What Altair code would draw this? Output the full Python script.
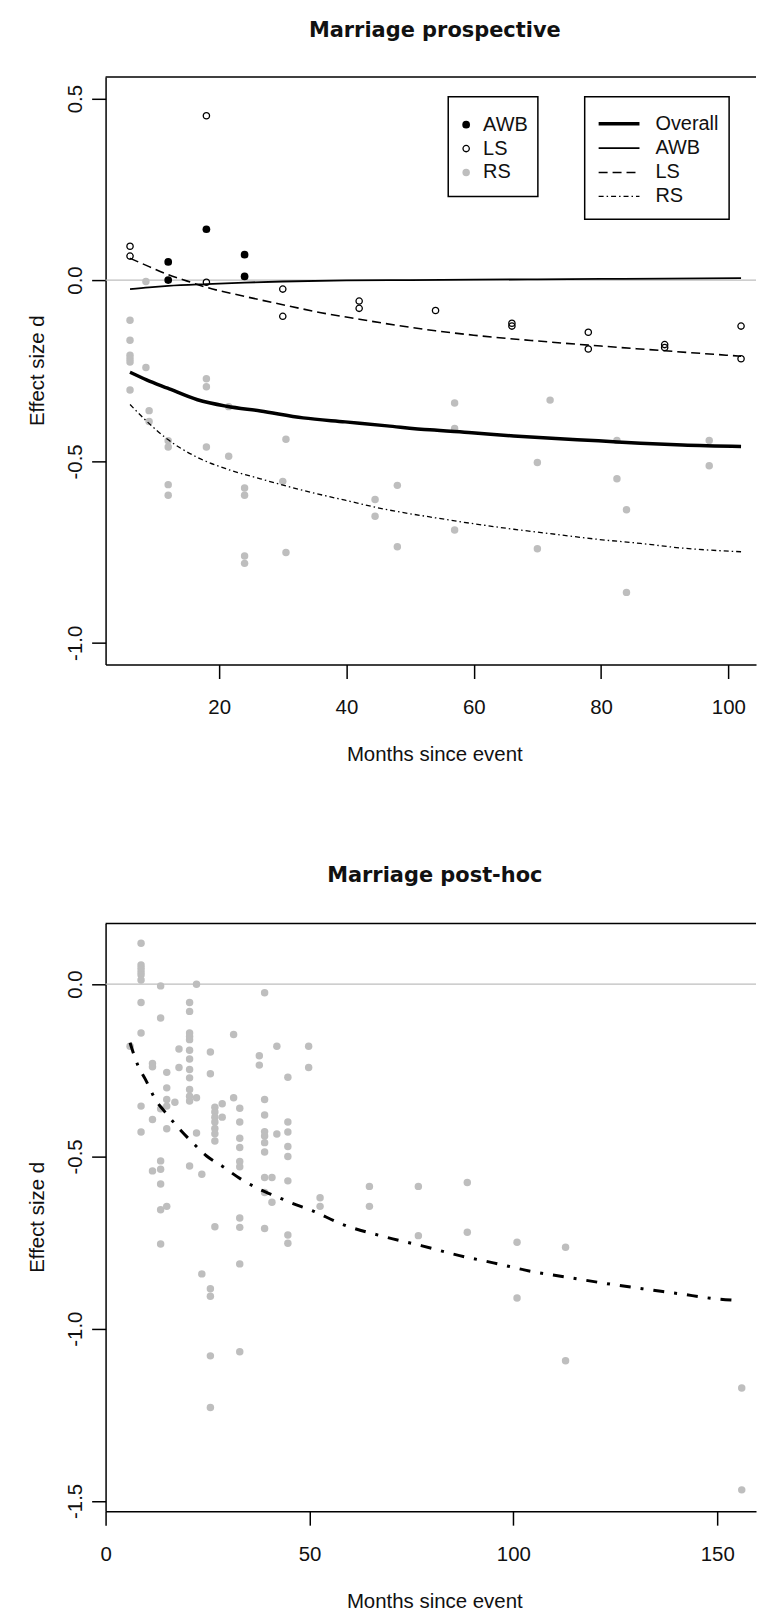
import altair as alt
import pandas as pd

W, H = 653, 590

# ---------------- top panel: Marriage prospective ----------------
top_awb_month = [12, 12, 18, 24, 24]
top_awb_d = [0.05, 0.0, 0.14, 0.07, 0.01]

top_ls_month = [6, 6, 18, 18, 30, 30, 42, 42, 54, 66, 66, 78, 78, 90, 90, 102, 102]
top_ls_d = [0.093, 0.066, 0.453, -0.006, -0.025, -0.10, -0.058, -0.078, -0.084,
            -0.119, -0.127, -0.144, -0.19, -0.178, -0.186, -0.127, -0.217]

top_rs_month = [6, 6, 6, 6, 6, 6, 8.5, 8.5, 9, 9,
                12, 12, 12, 12, 18, 18, 18, 21.5, 21.5,
                24, 24, 24, 24, 30.5, 30, 30.5, 44.5, 44.5, 48, 48,
                57, 57, 57, 70, 70, 72, 82.5, 82.5, 84, 84, 97, 97]
top_rs_d = [-0.111, -0.166, -0.207, -0.217, -0.226, -0.303, -0.004, -0.241, -0.36, -0.39,
            -0.443, -0.46, -0.564, -0.593, -0.272, -0.294, -0.46, -0.349, -0.486,
            -0.573, -0.593, -0.761, -0.781, -0.439, -0.555, -0.751, -0.605, -0.651, -0.566, -0.735,
            -0.339, -0.409, -0.689, -0.503, -0.741, -0.331, -0.442, -0.548, -0.633, -0.861, -0.442, -0.512]

top_overall_month = [6, 8.6, 11.9, 16.6, 21.2, 26.5, 33.2, 39.8, 46.4, 53.1, 59.7, 66.3, 72.9, 79.6, 86.2, 92.8, 102]
top_overall_d = [-0.254, -0.275, -0.298, -0.330, -0.348, -0.361, -0.380, -0.391, -0.402, -0.413,
                 -0.421, -0.430, -0.437, -0.443, -0.450, -0.455, -0.459]

top_awbfit_month = [6, 9, 12, 18, 24, 30, 40, 50, 60, 70, 80, 90, 102]
top_awbfit_d = [-0.025, -0.02, -0.016, -0.011, -0.007, -0.004, -0.001, 0.0, 0.001, 0.002, 0.003, 0.004, 0.005]

top_lsfit_month = [6, 9, 12, 15, 18, 24, 30, 36, 42, 48, 54, 60, 70, 80, 90, 102]
top_lsfit_d = [0.06, 0.037, 0.015, -0.003, -0.02, -0.045, -0.068, -0.09, -0.108, -0.125,
               -0.14, -0.152, -0.168, -0.182, -0.195, -0.21]

top_rsfit_month = [6, 8.6, 11.9, 16.6, 21.2, 26.5, 33.2, 39.8, 46.4, 53.1, 59.7, 66.3, 72.9, 79.6, 86.2, 92.8, 102]
top_rsfit_d = [-0.343, -0.389, -0.439, -0.489, -0.521, -0.548, -0.580, -0.607, -0.633, -0.653,
               -0.671, -0.687, -0.701, -0.715, -0.726, -0.739, -0.749]

# ---------------- bottom panel: Marriage post-hoc ----------------
bot_rs_month = (
    [6]
    + [8.7] * 10
    + [11.5] * 4
    + [13.5] * 8
    + [15] * 6
    + [17]
    + [18] * 2
    + [20.6] * 13
    + [22.3] * 3
    + [23.6] * 2
    + [25.7] * 6
    + [26.8] * 8
    + [28.6] * 2
    + [31.4] * 2
    + [32.9] * 10
    + [37.7] * 2
    + [39] * 10
    + [40.8] * 2
    + [42] * 2
    + [44.7] * 8
    + [49.8] * 2
    + [52.6] * 2
    + [64.7] * 2
    + [76.7] * 2
    + [88.7] * 2
    + [100.9] * 2
    + [112.8] * 2
    + [156] * 2
)
bot_rs_d = [
    -0.18,
    0.119, 0.056, 0.046, 0.036, 0.027, 0.012, -0.053, -0.142, -0.354, -0.429,
    -0.23, -0.24, -0.393, -0.542,
    -0.005, -0.098, -0.362, -0.513, -0.537, -0.58, -0.655, -0.754,
    -0.256, -0.301, -0.335, -0.354, -0.42, -0.645,
    -0.343,
    -0.188, -0.242,
    -0.053, -0.079, -0.142, -0.152, -0.161, -0.192, -0.217, -0.248, -0.272, -0.306, -0.325, -0.339, -0.528,
    0.0, -0.33, -0.432,
    -0.552, -0.841,
    -0.197, -0.26, -0.884, -0.906, -1.079, -1.229,
    -0.357, -0.371, -0.386, -0.40, -0.419, -0.434, -0.455, -0.704,
    -0.347, -0.386,
    -0.146, -0.33,
    -0.36, -0.40, -0.447, -0.474, -0.515, -0.53, -0.679, -0.706, -0.812, -1.067,
    -0.208, -0.235,
    -0.025, -0.335, -0.38, -0.428, -0.441, -0.46, -0.487, -0.561, -0.605, -0.709,
    -0.561, -0.633,
    -0.18, -0.435,
    -0.27, -0.40, -0.429, -0.471, -0.50, -0.571, -0.728, -0.752,
    -0.18, -0.242,
    -0.62, -0.645,
    -0.587, -0.645,
    -0.587, -0.73,
    -0.576, -0.72,
    -0.749, -0.911,
    -0.764, -1.093,
    -1.172, -1.468,
]

bot_fit_month = [6, 8, 9.7, 12.5, 14.5, 16.9, 18.4, 21.5, 24.7, 28.7, 33.2, 37.7, 41.8, 45.8, 50.8,
                 57.6, 68, 77.4, 86.8, 95.1, 104.5, 113.3, 122.2, 131.6, 140.9, 149.3, 154.5]
bot_fit_d = [-0.17, -0.238, -0.275, -0.34, -0.37, -0.404, -0.424, -0.462, -0.498, -0.529, -0.566, -0.595,
             -0.616, -0.636, -0.658, -0.695, -0.732, -0.759, -0.788, -0.809, -0.834, -0.851, -0.868,
             -0.884, -0.899, -0.913, -0.918]

titles = ["Marriage prospective", "Marriage post-hoc"]
x_title = ["Months since event"]
y_title = ["Effect size d"]
legend_points = ["AWB", "LS", "RS"]
legend_lines = ["Overall", "AWB", "LS", "RS"]
top_x_ticks = [20, 40, 60, 80, 100]
bot_x_ticks = [0, 50, 100, 150]
top_y_ticks = [-1.0, -0.5, 0.0, 0.5]
bot_y_ticks = [-1.5, -1.0, -0.5, 0.0]

GRAY = "#bebebe"
LABEL_FONT = "Liberation Sans"
FS = 20.5
GRAY_SIZE = 56
BLACK_SIZE = 60
OPEN_SIZE = 40


def df(m, d):
    return pd.DataFrame({"month": m, "d": d})


def one(text):
    return pd.DataFrame({"t": [text]})


def encs(xdom, xticks, ydom, yticks):
    x = alt.X("month:Q",
              scale=alt.Scale(domain=xdom, nice=False, zero=False),
              axis=alt.Axis(values=xticks, format="d", title=None, grid=False,
                            tickSize=14, tickWidth=1.5, tickColor="black",
                            domainColor="black", domainWidth=1.5,
                            labelFont=LABEL_FONT, labelFontSize=FS, labelColor="#111",
                            labelPadding=19, labelFlush=False, labelOverlap=False))
    y = alt.Y("d:Q",
              scale=alt.Scale(domain=ydom, nice=False, zero=False),
              axis=alt.Axis(values=yticks, title=None, grid=False,
                            labelExpr="datum.value < 0 ? '-' + format(-datum.value, '.1f') : format(datum.value, '.1f')",
                            tickSize=14, tickWidth=1.5, tickColor="black",
                            domainColor="black", domainWidth=1.5,
                            labelFont=LABEL_FONT, labelFontSize=FS, labelColor="#111",
                            labelAngle=270, labelAlign="center", labelBaseline="alphabetic",
                            labelPadding=10.5, labelFlush=False, labelOverlap=False))
    return x, y


def frame_layers(title_text, title_y):
    top_border = alt.Chart(one("b")).mark_rule(color="black", strokeWidth=1.5).encode(
        x=alt.value(0), x2=alt.value(W), y=alt.value(0))
    ttl = alt.Chart(one(title_text)).mark_text(
        font="DejaVu Sans", fontWeight="bold", fontSize=21, align="center", baseline="middle",
        color="#111").encode(text="t:N", x=alt.value(330.5), y=alt.value(title_y))
    xt = alt.Chart(one(x_title[0])).mark_text(
        font=LABEL_FONT, fontSize=FS, align="center", baseline="middle", color="#111").encode(
        text="t:N", x=alt.value(330.5), y=alt.value(681))
    yt = alt.Chart(one(y_title[0])).mark_text(
        font=LABEL_FONT, fontSize=FS, align="center", baseline="middle", angle=270, color="#111").encode(
        text="t:N", x=alt.value(-68), y=alt.value(H / 2))
    return top_border, ttl, xt, yt


# ---------------- build top panel ----------------
tx, ty = encs([2.16, 2.16 + W / 6.39], top_x_ticks, [-1.06, 0.56], top_y_ticks)
tb, ttl1, xt1, yt1 = frame_layers(titles[0], -46)
zero1 = alt.Chart(df([2.16, 2.16 + W / 6.39], [0, 0])).mark_line(color=GRAY, strokeWidth=1.2).encode(x=tx, y=ty)

anchor = alt.Chart(one("a")).mark_rule(color="white", strokeWidth=0.5).encode(
    x=alt.value(-105), x2=alt.value(-104), y=alt.value(-73))

rs_pts = alt.Chart(df(top_rs_month, top_rs_d)).mark_point(
    shape="circle", filled=True, color=GRAY, size=GRAY_SIZE, opacity=1).encode(x=tx, y=ty)
awb_pts = alt.Chart(df(top_awb_month, top_awb_d)).mark_point(
    shape="circle", filled=True, color="black", size=BLACK_SIZE, opacity=1).encode(x=tx, y=ty)
ls_pts = alt.Chart(df(top_ls_month, top_ls_d)).mark_point(
    shape="circle", filled=False, color="black", size=OPEN_SIZE, strokeWidth=1.3, opacity=1).encode(x=tx, y=ty)

overall_line = alt.Chart(df(top_overall_month, top_overall_d)).mark_line(
    color="black", strokeWidth=3.5, interpolate="monotone").encode(x=tx, y=ty)
awb_line = alt.Chart(df(top_awbfit_month, top_awbfit_d)).mark_line(
    color="black", strokeWidth=1.8, interpolate="monotone").encode(x=tx, y=ty)
ls_line = alt.Chart(df(top_lsfit_month, top_lsfit_d)).mark_line(
    color="black", strokeWidth=1.6, strokeDash=[9, 5], interpolate="monotone").encode(x=tx, y=ty)
rs_line = alt.Chart(df(top_rsfit_month, top_rsfit_d)).mark_line(
    color="black", strokeWidth=1.3, strokeDash=[5, 3, 1.5, 3], interpolate="monotone").encode(x=tx, y=ty)

# legends (drawn in pixel space of the panel)
box1 = alt.Chart(one("l1")).mark_rect(fillOpacity=0, stroke="black", strokeWidth=1.5).encode(
    x=alt.value(344), x2=alt.value(434), y=alt.value(20), y2=alt.value(120))
box2 = alt.Chart(one("l2")).mark_rect(fillOpacity=0, stroke="black", strokeWidth=1.5).encode(
    x=alt.value(481), x2=alt.value(626), y=alt.value(20), y2=alt.value(143))

leg1_rows = [48, 72, 96]
leg2_rows = [47, 71.5, 96, 120]

leg1_items = []
sym_styles = [dict(filled=True, color="black", size=BLACK_SIZE),
              dict(filled=False, color="black", size=OPEN_SIZE, strokeWidth=1.3),
              dict(filled=True, color=GRAY, size=GRAY_SIZE)]
for lab, yy, st in zip(legend_points, leg1_rows, sym_styles):
    leg1_items.append(alt.Chart(one(lab)).mark_point(shape="circle", opacity=1, **st).encode(
        x=alt.value(362), y=alt.value(yy)))
    leg1_items.append(alt.Chart(one(lab)).mark_text(
        font=LABEL_FONT, fontSize=20, align="left", baseline="middle", color="#111").encode(
        text="t:N", x=alt.value(379), y=alt.value(yy)))

line_styles = [dict(strokeWidth=3.5),
               dict(strokeWidth=1.8),
               dict(strokeWidth=1.6, strokeDash=[9, 5]),
               dict(strokeWidth=1.3, strokeDash=[5, 3, 1.5, 3])]
leg2_items = []
for lab, yy, st in zip(legend_lines, leg2_rows, line_styles):
    leg2_items.append(alt.Chart(one(lab)).mark_rule(color="black", **st).encode(
        x=alt.value(495), x2=alt.value(536), y=alt.value(yy)))
    leg2_items.append(alt.Chart(one(lab)).mark_text(
        font=LABEL_FONT, fontSize=20, align="left", baseline="middle", color="#111").encode(
        text="t:N", x=alt.value(552), y=alt.value(yy)))

top = alt.layer(anchor, zero1, rs_pts, awb_pts, ls_pts,
                overall_line, awb_line, ls_line, rs_line,
                tb, ttl1, xt1, yt1, box1, box2, *leg1_items, *leg2_items).properties(width=W, height=H)

# ---------------- build bottom panel ----------------
bx, by = encs([0, W / 4.094], bot_x_ticks, [-1.53, 0.176], bot_y_ticks)
tb2, ttl2, xt2, yt2 = frame_layers(titles[1], -48)
zero2 = alt.Chart(df([0, W / 4.094], [0, 0])).mark_line(color=GRAY, strokeWidth=1.2).encode(x=bx, y=by)

bot_pts = alt.Chart(df(bot_rs_month, bot_rs_d)).mark_point(
    shape="circle", filled=True, color=GRAY, size=GRAY_SIZE, opacity=1).encode(x=bx, y=by)
bot_line = alt.Chart(df(bot_fit_month, bot_fit_d)).mark_line(
    color="black", strokeWidth=3, strokeDash=[11, 10, 3, 10], interpolate="monotone").encode(x=bx, y=by)

bottom = alt.layer(zero2, bot_pts, bot_line, tb2, ttl2, xt2, yt2).properties(width=W, height=H)

chart = alt.vconcat(top, bottom, spacing=260, bounds="flush").configure(
    padding=0, background="white").configure_view(strokeWidth=0)

chart.save("out.html", embed_options={"renderer": "svg", "actions": False})
